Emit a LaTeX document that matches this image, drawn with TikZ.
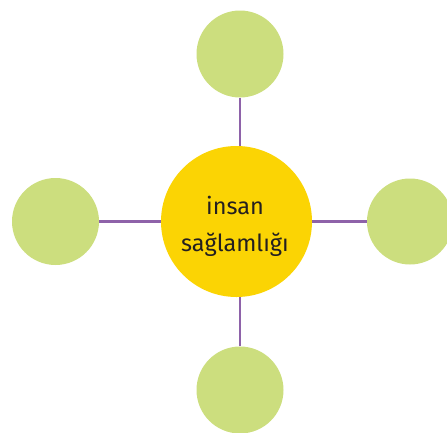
\documentclass[tikz,border=0pt]{standalone}
\usepackage{fontspec}
\setmainfont{Fira Sans}
\definecolor{cyel}{HTML}{FBD404}
\definecolor{cgrn}{HTML}{CCDE7E}
\definecolor{cpur}{HTML}{8E62A9}
\definecolor{ctxt}{HTML}{231F20}
\begin{document}
\begin{tikzpicture}[x=1pt,y=-1pt,
  leaf/.style={circle,fill=cgrn,minimum size=87pt,inner sep=0pt},
  hub/.style={circle,fill=cyel,minimum size=151pt,inner sep=0pt},
  lbl/.style={align=center,text=ctxt,inner sep=0pt,font=\fontsize{23.5}{37}\selectfont},
  link/.style={draw=cpur,line width=2.8pt}]
\useasboundingbox (0,0) rectangle (447,432);
\node[leaf] (t) at (240,54) {};
\node[leaf] (l) at (55.5,221.5) {};
\node[leaf,minimum size=86pt] (r) at (410,221.5) {};
\node[leaf] (b) at (240,390) {};
\coordinate (ct) at (240,221.5);
\coordinate (cb) at (240,221.5);
\coordinate (cl) at (236,221.5);
\coordinate (cr) at (236,221.5);
\draw[link] (t.south) -- (ct);
\draw[link] (b.north) -- (cb);
\draw[link] (l.east) -- (cl);
\draw[link] (r.west) -- (cr);
\node[hub] (h) at (236.5,221.5) {};
\node[lbl] (txt) at (235,226) {insan\\sağlamlığı};
\end{tikzpicture}
\end{document}
